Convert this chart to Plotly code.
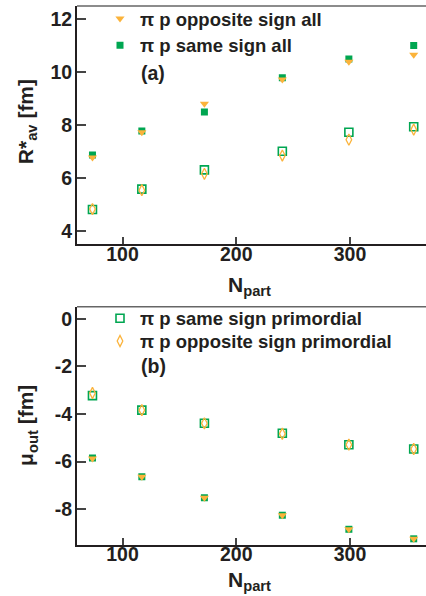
import plotly.graph_objects as go

# Centrality (number of participants)
n_part = [73.6, 117, 172, 240.5, 299, 356]

# Panel (a): R*_av [fm]
rav_same_all = [6.87, 7.78, 8.50, 9.79, 10.50, 11.01]
rav_opp_all = [6.78, 7.73, 8.81, 9.72, 10.39, 10.66]
rav_same_prim = [4.81, 5.58, 6.31, 7.01, 7.73, 7.94]
rav_opp_prim = [4.83, 5.54, 6.16, 6.85, 7.45, 7.83]

# Panel (b): mu_out [fm]
mu_same_prim = [-3.23, -3.84, -4.39, -4.81, -5.29, -5.47]
mu_opp_prim = [-3.12, -3.84, -4.39, -4.83, -5.29, -5.47]
mu_same_all = [-5.85, -6.64, -7.52, -8.25, -8.84, -9.24]
mu_opp_all = [-5.87, -6.64, -7.52, -8.25, -8.84, -9.24]

# Tick labels
x_ticks = [100, 200, 300]
ya_ticks = [4, 6, 8, 10, 12]
yb_ticks = [-8, -6, -4, -2, 0]

GREEN = "#00a651"
ORANGE = "#fbb33b"
INK = "#231f20"
FONT = "Liberation Sans, Arial, Helvetica, sans-serif"

W, H = 426, 596
ML, MR, MT, MB = 77, 0, 2, 51
PW, PH = W - ML - MR, H - MT - MB


def px_x(px):
    return (px - ML) / PW


def px_y(py):
    return (H - MB - py) / PH


def b(s):
    return "<b>" + s + "</b>"


fig = go.Figure()


def add(x, y, ax, sym, color, size, name=None, legend=None, lw=0):
    fig.add_trace(go.Scatter(
        x=x, y=y, mode="markers", xaxis=ax[0], yaxis=ax[1],
        marker=dict(symbol=sym, color=color, size=size,
                    line=dict(color=color, width=lw)),
        name=b(name) if name else None, showlegend=name is not None,
        legend=legend if legend else "legend",
    ))


# panel (a)
add(n_part, rav_same_prim, ("x", "y"), "square-open", GREEN, 8, lw=1.6)
add(n_part, rav_opp_prim, ("x", "y"), "diamond-tall-open", ORANGE, 8, lw=1.3)
add(n_part, rav_same_all, ("x", "y"), "square", GREEN, 7,
    name="\u03c0 p same sign all", legend="legend2")
add(n_part, rav_opp_all, ("x", "y"), "triangle-down", ORANGE, 8,
    name="\u03c0 p opposite sign all", legend="legend")

# panel (b)
add(n_part, mu_same_all, ("x2", "y2"), "square", GREEN, 7)
add(n_part, mu_opp_all, ("x2", "y2"), "triangle-down", ORANGE, 8)
add(n_part, mu_same_prim, ("x2", "y2"), "square-open", GREEN, 8, lw=1.6,
    name="\u03c0 p same sign primordial", legend="legend3")
add(n_part, mu_opp_prim, ("x2", "y2"), "diamond-tall-open", ORANGE, 8, lw=1.3,
    name="\u03c0 p opposite sign primordial", legend="legend4")

top_dom = [px_y(242), 1.0]
bot_dom = [0.0, px_y(305)]

axis_common = dict(
    showline=True, linecolor=INK, linewidth=2, mirror=False,
    ticks="inside", tickcolor="#444", tickwidth=1.5,
    showgrid=False, zeroline=False,
    tickfont=dict(family=FONT, size=19.5, color=INK, weight="bold"),
)

xa = dict(axis_common, range=[60, 366.8], tickvals=x_ticks,
          ticktext=[b(str(v)) for v in x_ticks], ticklen=7,
          ticklabelstandoff=-9)

fig.update_layout(
    width=W, height=H,
    margin=dict(l=ML, r=MR, t=MT, b=MB),
    paper_bgcolor="white", plot_bgcolor="white",
    font=dict(family=FONT, color=INK, weight="bold"),
    xaxis=dict(xa, domain=[0, 1], anchor="y"),
    xaxis2=dict(xa, domain=[0, 1], anchor="y2"),
    yaxis=dict(axis_common, domain=top_dom, anchor="x", range=[3.5, 12.5],
               tickvals=ya_ticks, ticktext=[b(str(v)) for v in ya_ticks],
               ticklen=9, ticklabelstandoff=-1),
    yaxis2=dict(axis_common, domain=bot_dom, anchor="x2", range=[-9.5, 0.5],
                tickvals=yb_ticks, ticktext=[b(str(v)) for v in yb_ticks],
                ticklen=9, ticklabelstandoff=-1),
)

# top frame line of each panel
for dom in (top_dom, bot_dom):
    fig.add_shape(type="line", xref="paper", yref="paper",
                  x0=0, x1=1, y0=dom[1], y1=dom[1],
                  line=dict(color="#666", width=1.5))

leg_font = dict(family=FONT, size=18.5, color=INK, weight="bold")
for key, yy in (("legend", 15), ("legend2", 42), ("legend3", 317), ("legend4", 340)):
    fig.update_layout({key: dict(
        x=px_x(100), y=px_y(yy), xanchor="left", yanchor="middle",
        bgcolor="rgba(0,0,0,0)", borderwidth=0, font=leg_font,
        itemsizing="trace",
    )})

ann_font = dict(family=FONT, size=19.5, color=INK, weight="bold")
title_font = dict(family=FONT, size=21, color=INK, weight="bold")
fig.add_annotation(text=b("(a)"), x=px_x(139), y=px_y(69), xref="paper", yref="paper",
                   xanchor="left", yanchor="middle", showarrow=False, font=ann_font)
fig.add_annotation(text=b("(b)"), x=px_x(139), y=px_y(365), xref="paper", yref="paper",
                   xanchor="left", yanchor="middle", showarrow=False, font=ann_font)

# axis titles
fig.add_annotation(text=b("R*<sub>av</sub> [fm]"), x=px_x(27), y=px_y(119),
                   xref="paper", yref="paper", textangle=-90, showarrow=False,
                   xanchor="center", yanchor="middle", font=title_font)
fig.add_annotation(text=b("\u03bc<sub>out</sub> [fm]"), x=px_x(27), y=px_y(425),
                   xref="paper", yref="paper", textangle=-90, showarrow=False,
                   xanchor="center", yanchor="middle", font=title_font)
for yy in (284, 581):
    fig.add_annotation(text=b("N<sub>part</sub>"), x=px_x(249), y=px_y(yy),
                       xref="paper", yref="paper", showarrow=False,
                       xanchor="center", yanchor="middle", font=title_font)

fig.write_html("out.html")
